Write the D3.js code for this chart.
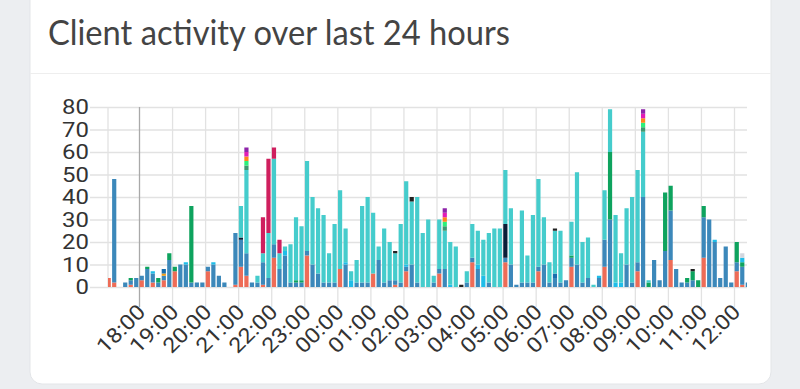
<!DOCTYPE html>
<html>
<head>
<meta charset="utf-8">
<script src="https://cdn.jsdelivr.net/npm/d3@7"></script>
<style>
  html, body { margin: 0; padding: 0; background: #eceef1; }
  svg { display: block; }
</style>
</head>
<body>
<svg id="chart" width="800" height="389"></svg>
<script>
// 10-minute slots, first slot starts 17:00
const firstSlot = new Date(2024, 0, 1, 17, 0);
const slotMinutes = 10;

const hourTicks = ['18:00', '19:00', '20:00', '21:00', '22:00', '23:00', '00:00', '01:00', '02:00',
  '03:00', '04:00', '05:00', '06:00', '07:00', '08:00', '09:00', '10:00', '11:00', '12:00'];
const yTicks = [0, 10, 20, 30, 40, 50, 60, 70, 80];

// one array per client, bottom of the stack first
const red = [
  4,2,0,0,1,0,3,0,2,0, 3,0,7,0,0,0,0,0,7,0, 0,0,0,1,9,5,0,0,1,0, 13,0,0,0,0,0,14,0,0,0,
  0,0,8,0,0,0,0,0,6,0, 0,0,1,0,7,0,0,0,0,0, 6,0,0,0,0,0,11,0,0,0, 0,0,11,0,0,0,0,0,7,0,
  0,0,0,0,9,0,0,0,0,0, 9,0,0,0,0,0,7,0,0,0, 0,0,12,0,0,0,0,0,13,0, 0,0,0,0,7,1,0];
const lightBlue = [
  0,46,0,2,2,4,2,8,4,2, 2,12,0,10,10,2,2,2,2,10, 5,2,0,23,12,10,2,2,10,4, 6,8,14,2,2,2,2,10,6,2,
  2,2,0,10,0,2,2,2,0,12, 2,3,2,2,2,10,2,0,0,2, 2,8,0,0,0,2,2,8,0,2, 0,0,2,10,1,2,2,2,2,10,
  2,4,2,3,4,10,2,4,0,4, 12,30,0,0,10,2,4,40,0,12, 3,16,22,8,2,2,3,0,18,30, 20,4,18,2,4,8,2];
const green = [
  0,0,0,0,1,0,0,1,0,2, 0,3,2,0,0,34,0,0,0,0, 0,0,0,0,0,0,0,0,0,0, 0,0,0,0,1,1,0,0,0,0,
  0,0,0,0,0,0,0,0,0,0, 0,0,0,0,0,0,0,0,0,0, 0,0,0,0,0,0,0,0,0,0, 0,0,0,0,0,0,0,0,0,0,
  0,0,0,0,1,0,0,0,0,0, 0,30,0,0,0,0,0,0,2,0, 0,26,11,0,0,2,4,3,5,0, 0,0,0,0,9,2,0];
const aqua = [
  0,0,0,0,0,0,0,0,1,0, 0,0,0,0,1,0,0,0,0,1, 0,0,0,0,0,0,0,0,0,0, 0,0,2,0,0,0,0,0,0,0,
  0,0,0,1,3,0,0,0,0,0, 0,0,0,0,1,0,0,0,0,0, 0,0,1,0,0,0,0,2,5,0, 0,0,0,0,0,0,0,0,0,0,
  0,0,0,0,0,0,0,0,0,1, 0,0,2,2,0,0,0,0,0,0, 0,0,0,0,0,0,0,0,0,0, 1,0,0,0,0,2,0];
const yellow = [
  0,0,0,0,0,0,0,0,0,0, 1,0,0,0,0,0,0,0,0,0, 0,0,0,0,0,0,0,0,0,0, 0,0,0,0,0,0,0,0,0,0,
  0,0,0,0,0,0,0,0,0,0, 0,0,0,0,0,0,0,0,0,0, 0,0,0,0,0,0,0,0,0,0, 0,0,0,0,0,0,0,0,0,0,
  0,0,0,0,0,0,0,0,0,0, 0,0,0,0,0,0,0,0,0,0, 0,0,0,0,0,0,0,0,0,0, 0,0,0,0,0,0,0];
const blue = [
  0,0,0,0,0,0,0,0,0,0, 2,0,0,0,0,0,0,0,0,0, 0,0,0,0,0,0,0,0,0,0, 0,0,0,0,0,0,0,0,0,0,
  0,0,0,0,0,0,0,0,0,0, 0,0,0,0,0,0,0,0,0,0, 0,0,0,0,0,0,0,0,0,0, 0,0,0,0,0,0,0,0,0,0,
  0,2,0,0,0,0,0,0,0,0, 0,0,0,0,0,0,0,0,0,0, 0,0,0,0,0,0,0,0,0,0, 0,0,0,0,0,0,0];
const navy = [
  0,0,0,0,0,0,0,0,0,0, 0,0,0,0,0,0,0,0,0,0, 0,0,0,0,1,0,0,0,0,0, 0,0,0,0,0,0,0,0,0,0,
  0,0,0,0,0,0,0,0,0,0, 0,0,0,0,0,0,0,0,0,0, 0,0,0,0,0,0,0,0,0,0, 0,0,15,0,0,0,0,0,0,0,
  0,0,0,0,0,0,0,0,0,0, 0,0,0,0,0,0,0,0,0,0, 0,0,0,0,0,0,0,0,0,0, 0,0,0,0,0,0,0];
const teal = [
  0,0,0,0,0,0,0,0,0,0, 0,0,0,0,0,0,0,0,0,0, 0,0,0,0,14,37,0,3,4,20, 38,7,2,17,28,24,40,30,29,30,
  13,26,35,15,4,10,34,38,27,6, 24,17,12,26,37,28,38,24,30,3, 22,17,19,18,0,5,15,15,16,22, 26,26,24,25,0,32,12,30,39,21,
  9,19,23,0,15,41,18,18,1,0, 22,19,30,13,25,38,41,29,1,0, 0,0,0,0,0,0,0,0,0,0, 0,0,0,0,0,0,0];
const olive = [
  0,0,0,0,0,0,0,0,0,0, 0,0,0,0,0,0,0,0,0,0, 0,0,0,0,0,2,0,0,0,0, 0,0,0,0,0,0,0,0,0,0,
  0,0,0,0,0,0,0,0,0,0, 0,0,0,0,0,0,0,0,0,0, 0,2,0,0,0,0,0,0,0,0, 0,0,0,0,0,0,0,0,0,0,
  0,0,0,0,0,0,0,0,0,0, 0,0,0,0,0,0,0,2,0,0, 0,0,0,0,0,0,0,0,0,0, 0,0,0,0,0,0,0];
const lime = [
  0,0,0,0,0,0,0,0,0,0, 0,0,0,0,0,0,0,0,0,0, 0,0,0,0,0,2,0,0,0,0, 0,0,0,0,0,0,0,0,0,0,
  0,0,0,0,0,0,0,0,0,0, 0,0,0,0,0,0,0,0,0,0, 0,2,0,0,0,0,0,0,0,0, 0,0,0,0,0,0,0,0,0,0,
  0,0,0,0,0,0,0,0,0,0, 0,0,0,0,0,0,0,2,0,0, 0,0,0,0,0,0,0,0,0,0, 0,0,0,0,0,0,0];
const orange = [
  0,0,0,0,0,0,0,0,0,0, 0,0,0,0,0,0,0,0,0,0, 0,0,0,0,0,2,0,0,0,0, 0,0,0,0,0,0,0,0,0,0,
  0,0,0,0,0,0,0,0,0,0, 0,0,0,0,0,0,0,0,0,0, 0,2,0,0,0,0,0,0,0,0, 0,0,0,0,0,0,0,0,0,0,
  0,0,0,0,0,0,0,0,0,0, 0,0,0,0,0,0,0,2,0,0, 0,0,0,0,0,0,0,0,0,0, 0,0,0,0,0,0,0];
const fuchsia = [
  0,0,0,0,0,0,0,0,0,0, 0,0,0,0,0,0,0,0,0,0, 0,0,0,0,0,2,0,0,0,0, 0,0,0,0,0,0,0,0,0,0,
  0,0,0,0,0,0,0,0,0,0, 0,0,0,0,0,0,0,0,0,0, 0,2,0,0,0,0,0,0,0,0, 0,0,0,0,0,0,0,0,0,0,
  0,0,0,0,0,0,0,0,0,0, 0,0,0,0,0,0,0,2,0,0, 0,0,0,0,0,0,0,0,0,0, 0,0,0,0,0,0,0];
const purple = [
  0,0,0,0,0,0,0,0,0,0, 0,0,0,0,0,0,0,0,0,0, 0,0,0,0,0,2,0,0,0,0, 0,0,0,0,0,0,0,0,0,0,
  0,0,0,0,0,0,0,0,0,0, 0,0,0,0,0,0,0,0,0,0, 0,2,0,0,0,0,0,0,0,0, 0,0,0,0,0,0,0,0,0,0,
  0,0,0,0,0,0,0,0,0,0, 0,0,0,0,0,0,0,2,0,0, 0,0,0,0,0,0,0,0,0,0, 0,0,0,0,0,0,0];
const maroon = [
  0,0,0,0,0,0,0,0,0,0, 0,0,0,0,0,0,0,0,0,0, 0,0,0,0,0,0,0,0,16,33, 5,6,0,0,0,0,0,0,0,0,
  0,0,0,0,0,0,0,0,0,0, 0,0,0,0,0,0,0,0,0,0, 0,0,0,0,0,0,0,0,0,0, 0,0,0,0,0,0,0,0,0,0,
  0,0,0,0,0,0,0,0,0,0, 0,0,0,0,0,0,0,0,0,0, 0,0,0,0,0,0,0,0,0,0, 0,0,0,0,0,0,0];
const black = [
  0,0,0,0,0,0,0,0,0,0, 0,0,0,0,0,0,0,0,0,0, 0,0,0,0,0,0,0,0,0,0, 0,0,0,0,0,0,0,0,0,0,
  0,0,0,0,0,0,0,0,0,0, 0,0,1,0,0,2,0,0,0,0, 0,0,0,0,1,0,0,0,0,0, 0,0,0,0,0,0,0,0,0,0,
  0,1,0,0,0,0,0,0,0,0, 0,0,0,0,0,0,0,0,0,0, 0,0,0,0,0,0,1,0,0,0, 0,0,0,0,0,0,0];
const gray = [
  0,0,0,0,0,0,0,0,0,0, 0,0,0,0,0,0,0,0,0,0, 0,0,0,0,0,0,0,0,0,0, 0,0,0,0,0,0,0,0,0,0,
  0,0,0,0,0,0,0,0,0,0, 0,0,0,0,0,0,0,0,0,0, 0,0,0,0,0,0,0,0,0,0, 0,0,0,0,0,0,0,0,0,0,
  0,0,0,0,0,0,0,0,0,0, 0,0,0,0,0,0,0,0,0,0, 0,0,0,0,0,0,0,0,0,0, 0,0,0,0,0,2,0];

const seriesKeys = ['red', 'lightBlue', 'green', 'aqua', 'yellow', 'blue', 'navy', 'teal',
  'olive', 'lime', 'orange', 'fuchsia', 'purple', 'maroon', 'black', 'gray'];
const seriesColors = ['#ee6c57', '#3c88ba', '#0ea35e', '#1fbde8', '#f39c12', '#1a6fae', '#0a1e38', '#45cccc',
  '#3d9970', '#2cf07a', '#ff851b', '#e21cb6', '#8e24aa', '#cf1f5e', '#222222', '#d2d6de'];
const seriesValues = {red, lightBlue, green, aqua, yellow, blue, navy, teal,
  olive, lime, orange, fuchsia, purple, maroon, black, gray};

// build rows for d3.stack
const rows = red.map((_, i) => {
  const row = {t: d3.timeMinute.offset(firstSlot, i * slotMinutes)};
  seriesKeys.forEach(k => { row[k] = seriesValues[k][i]; });
  return row;
});

const svg = d3.select('#chart');

/* card */
svg.append('rect')
  .attr('x', 30).attr('y', -12)
  .attr('width', 741).attr('height', 396)
  .attr('rx', 12)
  .style('fill', '#fff')
  .style('stroke', '#e3e5e8');
svg.append('line')
  .attr('x1', 30).attr('x2', 771)
  .attr('y1', 73.5).attr('y2', 73.5)
  .style('stroke', '#eeeeee');
svg.append('text')
  .attr('x', 48).attr('y', 45)
  .attr('textLength', 462)
  .attr('lengthAdjust', 'spacingAndGlyphs')
  .style('font-family', 'Lato, "Open Sans", sans-serif')
  .style('font-size', '34px')
  .style('fill', '#444')
  .text('Client activity over last 24 hours');

/* scales */
const plot = {left: 108, right: 747, top: 107, bottom: 287};
const parseHour = d3.timeParse('%H:%M');
const tickDates = hourTicks.map((h, i) => {
  const p = parseHour(h);
  const d = new Date(2024, 0, 1, p.getHours(), 0);
  if (i > 0 && p.getHours() < 18) d.setDate(2);
  return d;
});
const xScale = d3.scaleTime()
  .domain([tickDates[0], tickDates[tickDates.length - 1]])
  .range([139, 734]);
const yScale = d3.scaleLinear()
  .domain([0, 80])
  .range([plot.bottom, plot.top]);
const barWidth = 4.2;
const slotCenter = t => xScale(d3.timeMinute.offset(t, slotMinutes / 2));

/* grid + axes */
const yAxis = svg.append('g')
  .attr('class', 'y axis')
  .attr('transform', 'translate(90,0)')
  .call(d3.axisLeft(yScale).tickValues(yTicks).tickSize(-(plot.right - 90)).tickPadding(1));
yAxis.select('.domain').remove();
yAxis.selectAll('line').style('stroke', '#e2e2e2').style('stroke-width', 1.3);
yAxis.selectAll('text')
  .attr('transform', 'scale(1.14,1)')
  .style('font-family', 'Roboto, "Liberation Sans", sans-serif')
  .style('font-size', '21px')
  .style('fill', '#333');

// vertical grid lines and the little tick marks under the axis
const xGrid = svg.append('g')
  .attr('transform', 'translate(0,' + (plot.bottom + 20) + ')')
  .call(d3.axisBottom(xScale).tickValues(tickDates).tickSize(-(plot.bottom + 20 - plot.top)).tickFormat(''));
xGrid.select('.domain').remove();
xGrid.selectAll('line').style('stroke', '#e2e2e2').style('stroke-width', 1.3);
xGrid.selectAll('line').filter((d, i) => i === 0).style('stroke', '#a9a9a9');

svg.append('line')
  .attr('x1', plot.left).attr('x2', plot.left)
  .attr('y1', plot.top).attr('y2', plot.bottom)
  .style('stroke', '#e2e2e2').style('stroke-width', 1.3);

const xAxis = svg.append('g')
  .attr('class', 'x axis')
  .attr('transform', 'translate(0,' + plot.bottom + ')')
  .call(d3.axisBottom(xScale).tickValues(tickDates).tickSize(0).tickFormat(d3.timeFormat('%H:%M')));
xAxis.select('.domain').remove();
xAxis.selectAll('text')
  .attr('x', 0).attr('y', 0)
  .attr('dy', '0.35em')
  .attr('transform', 'translate(2,21) rotate(-45) scale(1.12,1)')
  .style('text-anchor', 'end')
  .style('font-family', 'Roboto, "Liberation Sans", sans-serif')
  .style('font-size', '21px')
  .style('fill', '#333');

/* stacked bars */
svg.append('clipPath').attr('id', 'plot-clip')
  .append('rect')
  .attr('x', plot.left).attr('y', 0)
  .attr('width', plot.right - plot.left).attr('height', plot.bottom + 1);

const stacked = d3.stack().keys(seriesKeys)(rows);
const barGroup = svg.append('g').attr('clip-path', 'url(#plot-clip)');
barGroup.selectAll('g.layer')
  .data(stacked)
  .enter()
  .append('g')
  .attr('class', 'layer')
  .style('fill', (s, i) => seriesColors[i])
  .selectAll('rect')
  .data(s => s.filter(d => d[1] > d[0]))
  .enter()
  .append('rect')
  .attr('x', d => slotCenter(d.data.t) - barWidth / 2)
  .attr('y', d => yScale(d[1]))
  .attr('width', barWidth)
  .attr('height', d => yScale(d[0]) - yScale(d[1]));
</script>
</body>
</html>
